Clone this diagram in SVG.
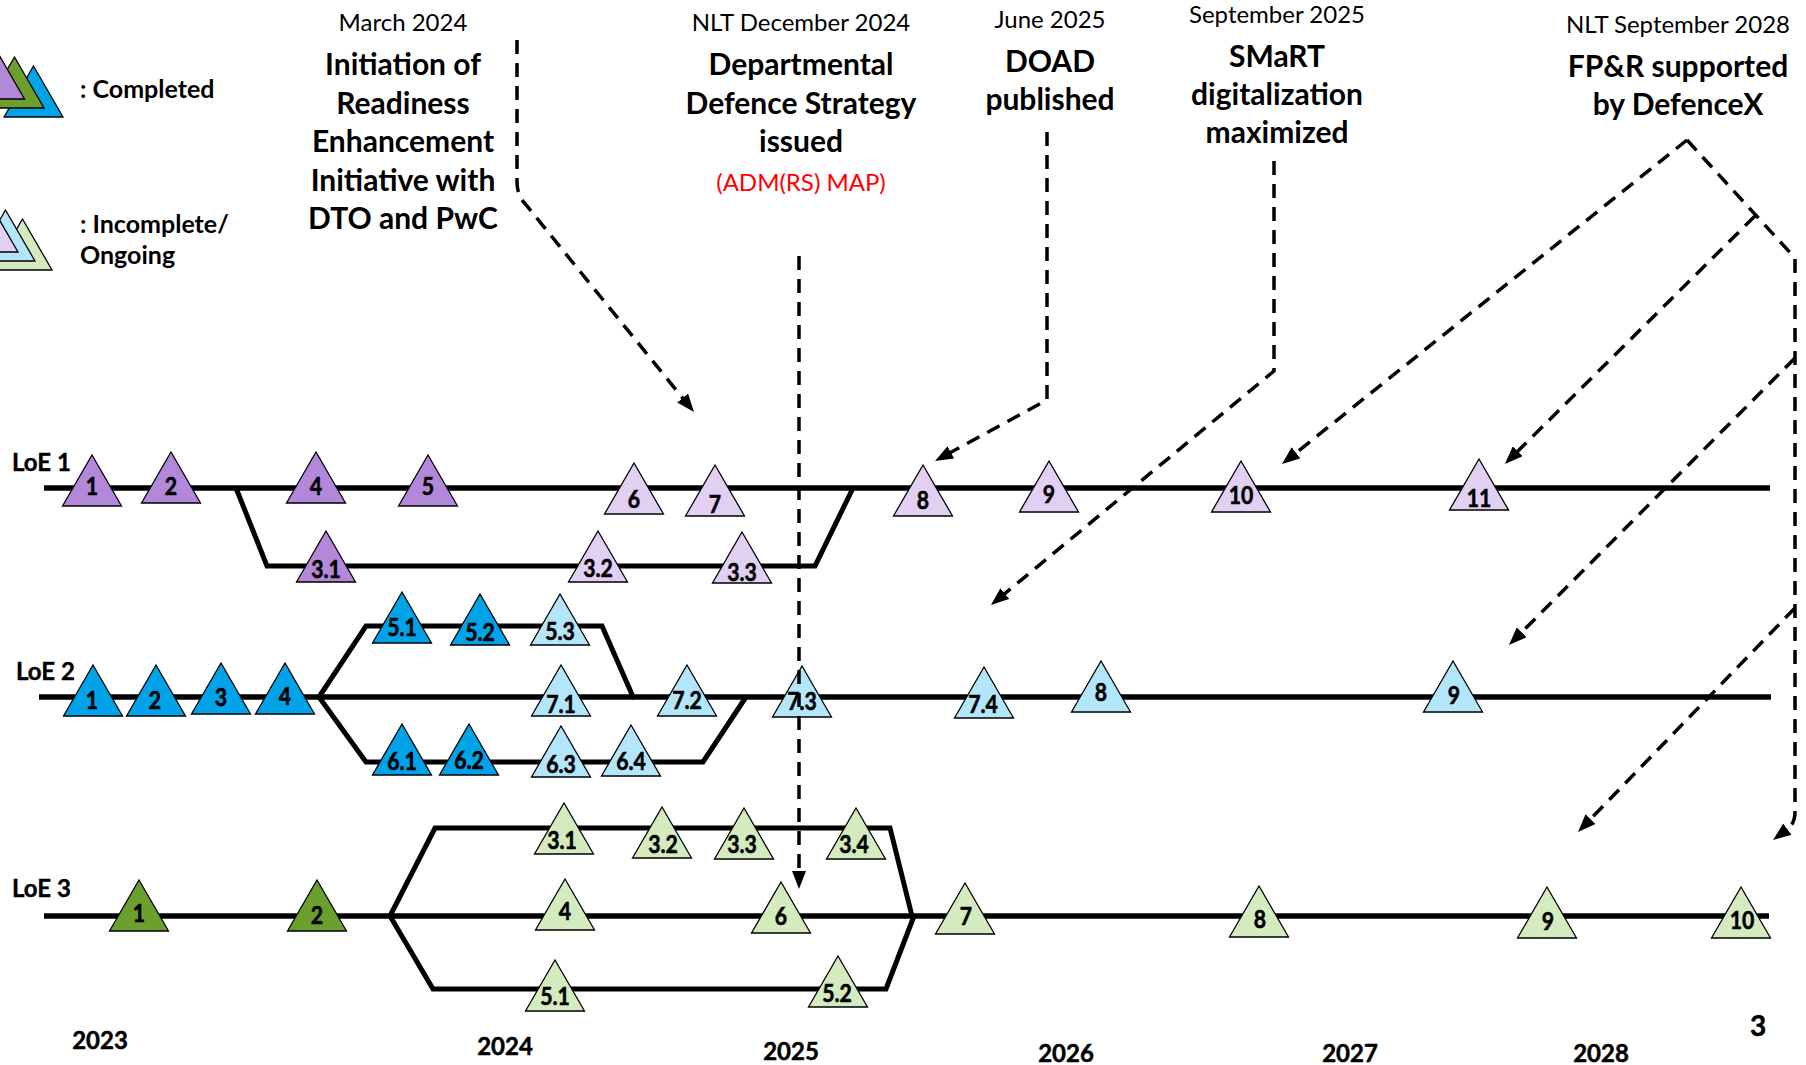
<svg xmlns="http://www.w3.org/2000/svg" xmlns:xlink="http://www.w3.org/1999/xlink" width="1806" height="1065" viewBox="0 0 1806 1065">
<style>
.tri{stroke:#000;stroke-width:1.3;stroke-linejoin:miter}
.pu{fill:#B388DA}.lpu{fill:#E2D0F2}
.bl{fill:#00A2E8}.lbl{fill:#B3E5FB}
.dg{fill:#6B9F2E}.lg{fill:#D3EBBF}
.num{font-family:Lato,"Open Sans","Liberation Sans",sans-serif;font-weight:700;font-size:25px;text-anchor:middle;fill:#000;stroke:#000;stroke-width:0.6}
.head{font-family:Lato,"Open Sans","Liberation Sans",sans-serif;font-weight:700;font-size:30px;text-anchor:middle;fill:#000}
.date{font-family:Lato,"Open Sans","Liberation Sans",sans-serif;font-weight:400;font-size:24px;text-anchor:middle;fill:#000}
.leg{font-family:Lato,"Open Sans","Liberation Sans",sans-serif;font-weight:700;font-size:25px;fill:#000}
.year{font-family:Lato,"Open Sans","Liberation Sans",sans-serif;font-weight:700;font-size:24px;text-anchor:middle;fill:#000;stroke:#000;stroke-width:0.5}
.loe{font-family:Lato,"Open Sans","Liberation Sans",sans-serif;font-weight:700;font-size:24px;fill:#000;stroke:#000;stroke-width:0.4}
.tl{fill:none;stroke:#000;stroke-width:5.5;stroke-linejoin:miter}
.br{fill:none;stroke:#000;stroke-width:5;stroke-linejoin:miter}
.dash{fill:none;stroke:#000;stroke-width:3.5;stroke-dasharray:14 9}
</style>
<defs>
<path id="tri" d="M0,0 L29.5,51 L-29.5,51 Z"/>
<marker id="arr" markerUnits="userSpaceOnUse" markerWidth="18" markerHeight="14" viewBox="0 0 18 14" refX="12" refY="7" orient="auto"><path d="M0,0 L18,7 L0,14 Z" fill="#000"/></marker>
</defs>
<rect width="1806" height="1065" fill="#fff"/>

<g id="legend">
<g id="legend-completed">
<use href="#tri" x="33.5" y="66" class="tri bl"/>
<use href="#tri" x="14.5" y="57" class="tri dg"/>
<use href="#tri" x="-5" y="48" class="tri pu"/>
<text class="leg" x="80" y="98">: Completed</text>
</g>
<g id="legend-incomplete">
<use href="#tri" x="22.5" y="219" class="tri lg"/>
<use href="#tri" x="5.5" y="210" class="tri lbl"/>
<use href="#tri" x="-11.5" y="201" class="tri lpu"/>
<text class="leg" x="80" y="233">: Incomplete/</text>
<text class="leg" x="80" y="264">Ongoing</text>
</g>
</g>

<g id="headings">
<g id="h-march2024">
<text class="date" x="403" y="31">March 2024</text>
<text class="head" x="403" y="75">Initiation of</text>
<text class="head" x="403" y="114">Readiness</text>
<text class="head" x="403" y="152">Enhancement</text>
<text class="head" x="403" y="191">Initiative with</text>
<text class="head" x="403" y="229">DTO and PwC</text>
</g>
<g id="h-dec2024">
<text class="date" x="801" y="31">NLT December 2024</text>
<text class="head" x="801" y="75">Departmental</text>
<text class="head" x="801" y="114">Defence Strategy</text>
<text class="head" x="801" y="152">issued</text>
<text class="date" x="801" y="191" style="fill:#FF0000">(ADM(RS) MAP)</text>
</g>
<g id="h-june2025">
<text class="date" x="1050" y="28">June 2025</text>
<text class="head" x="1050" y="72">DOAD</text>
<text class="head" x="1050" y="110">published</text>
</g>
<g id="h-sep2025">
<text class="date" x="1277" y="23">September 2025</text>
<text class="head" x="1277" y="67">SMaRT</text>
<text class="head" x="1277" y="105">digitalization</text>
<text class="head" x="1277" y="143">maximized</text>
</g>
<g id="h-sep2028">
<text class="date" x="1678" y="33">NLT September 2028</text>
<text class="head" x="1678" y="77">FP&amp;R supported</text>
<text class="head" x="1678" y="115">by DefenceX</text>
</g>
</g>

<g id="timelines">
<path class="tl" d="M44,488 H1770"/>
<path class="br" d="M236,488 L267,566 H815 L853,488"/>
<path class="tl" d="M39,697 H1771"/>
<path class="br" d="M319,697 L366,626 H602 L634,699"/>
<path class="br" d="M319,697 L366,762 H703 L746,697"/>
<path class="tl" d="M44,916 H1769"/>
<path class="br" d="M390,916 L435,828 H890 L912,916"/>
<path class="br" d="M390,916 L433,989 H886 L914,916"/>
</g>

<g id="loe-labels">
<text class="loe" x="12" y="471">LoE 1</text>
<text class="loe" x="16" y="680">LoE 2</text>
<text class="loe" x="12" y="897">LoE 3</text>
</g>

<g id="loe1">
<g id="l1-1"><use href="#tri" x="92" y="455" class="tri pu"/><text class="num" transform="translate(92,495) scale(0.85,1)">1</text></g>
<g id="l1-2"><use href="#tri" x="171" y="452" class="tri pu"/><text class="num" transform="translate(171,495) scale(0.85,1)">2</text></g>
<g id="l1-4"><use href="#tri" x="316" y="452" class="tri pu"/><text class="num" transform="translate(316,495) scale(0.85,1)">4</text></g>
<g id="l1-5"><use href="#tri" x="428" y="455" class="tri pu"/><text class="num" transform="translate(428,495) scale(0.85,1)">5</text></g>
<g id="l1-6"><use href="#tri" x="634" y="463" class="tri lpu"/><text class="num" transform="translate(634,508) scale(0.85,1)">6</text></g>
<g id="l1-7"><use href="#tri" x="715" y="465" class="tri lpu"/><text class="num" transform="translate(715,513) scale(0.85,1)">7</text></g>
<g id="l1-3-1"><use href="#tri" x="326" y="531" class="tri pu"/><text class="num" transform="translate(326,578) scale(0.85,1)">3.1</text></g>
<g id="l1-3-2"><use href="#tri" x="598" y="531" class="tri lpu"/><text class="num" transform="translate(598,577) scale(0.85,1)">3.2</text></g>
<g id="l1-3-3"><use href="#tri" x="742" y="532" class="tri lpu"/><text class="num" transform="translate(742,581) scale(0.85,1)">3.3</text></g>
<g id="l1-8"><use href="#tri" x="923" y="465" class="tri lpu"/><text class="num" transform="translate(923,509) scale(0.85,1)">8</text></g>
<g id="l1-9"><use href="#tri" x="1049" y="461" class="tri lpu"/><text class="num" transform="translate(1049,503) scale(0.85,1)">9</text></g>
<g id="l1-10"><use href="#tri" x="1241" y="461" class="tri lpu"/><text class="num" transform="translate(1241,504) scale(0.85,1)">10</text></g>
<g id="l1-11"><use href="#tri" x="1479" y="459" class="tri lpu"/><text class="num" transform="translate(1479,507) scale(0.85,1)">11</text></g>
</g>

<g id="loe2">
<g id="l2-1"><use href="#tri" x="93" y="665" class="tri bl"/><text class="num" transform="translate(92,709) scale(0.85,1)">1</text></g>
<g id="l2-2"><use href="#tri" x="156" y="665" class="tri bl"/><text class="num" transform="translate(155,709) scale(0.85,1)">2</text></g>
<g id="l2-3"><use href="#tri" x="221" y="663" class="tri bl"/><text class="num" transform="translate(221,706) scale(0.85,1)">3</text></g>
<g id="l2-4"><use href="#tri" x="285" y="663" class="tri bl"/><text class="num" transform="translate(285,705) scale(0.85,1)">4</text></g>
<g id="l2-5-1"><use href="#tri" x="402" y="592" class="tri bl"/><text class="num" transform="translate(402,636) scale(0.85,1)">5.1</text></g>
<g id="l2-5-2"><use href="#tri" x="480" y="594" class="tri bl"/><text class="num" transform="translate(480,641) scale(0.85,1)">5.2</text></g>
<g id="l2-5-3"><use href="#tri" x="560" y="594" class="tri lbl"/><text class="num" transform="translate(560,640) scale(0.85,1)">5.3</text></g>
<g id="l2-7-1"><use href="#tri" x="561" y="665" class="tri lbl"/><text class="num" transform="translate(561,713) scale(0.85,1)">7.1</text></g>
<g id="l2-7-2"><use href="#tri" x="687" y="665" class="tri lbl"/><text class="num" transform="translate(687,709) scale(0.85,1)">7.2</text></g>
<g id="l2-7-3"><use href="#tri" x="802" y="666" class="tri lbl"/><text class="num" transform="translate(802,710) scale(0.85,1)">7.3</text></g>
<g id="l2-6-1"><use href="#tri" x="402" y="724" class="tri bl"/><text class="num" transform="translate(402,770) scale(0.85,1)">6.1</text></g>
<g id="l2-6-2"><use href="#tri" x="469" y="724" class="tri bl"/><text class="num" transform="translate(469,769) scale(0.85,1)">6.2</text></g>
<g id="l2-6-3"><use href="#tri" x="561" y="726" class="tri lbl"/><text class="num" transform="translate(561,773) scale(0.85,1)">6.3</text></g>
<g id="l2-6-4"><use href="#tri" x="631" y="725" class="tri lbl"/><text class="num" transform="translate(631,770) scale(0.85,1)">6.4</text></g>
<g id="l2-7-4"><use href="#tri" x="984" y="667" class="tri lbl"/><text class="num" transform="translate(983,713) scale(0.85,1)">7.4</text></g>
<g id="l2-8"><use href="#tri" x="1101" y="661" class="tri lbl"/><text class="num" transform="translate(1101,701) scale(0.85,1)">8</text></g>
<g id="l2-9"><use href="#tri" x="1453" y="661" class="tri lbl"/><text class="num" transform="translate(1454,704) scale(0.85,1)">9</text></g>
</g>

<g id="loe3">
<g id="l3-1"><use href="#tri" x="139" y="880" class="tri dg"/><text class="num" transform="translate(139,922) scale(0.85,1)">1</text></g>
<g id="l3-2"><use href="#tri" x="317" y="880" class="tri dg"/><text class="num" transform="translate(317,924) scale(0.85,1)">2</text></g>
<g id="l3-3-1"><use href="#tri" x="564" y="803" class="tri lg"/><text class="num" transform="translate(562,849) scale(0.85,1)">3.1</text></g>
<g id="l3-3-2"><use href="#tri" x="662" y="807" class="tri lg"/><text class="num" transform="translate(663,853) scale(0.85,1)">3.2</text></g>
<g id="l3-3-3"><use href="#tri" x="744" y="808" class="tri lg"/><text class="num" transform="translate(742,853) scale(0.85,1)">3.3</text></g>
<g id="l3-3-4"><use href="#tri" x="856" y="808" class="tri lg"/><text class="num" transform="translate(854,853) scale(0.85,1)">3.4</text></g>
<g id="l3-4"><use href="#tri" x="565" y="879" class="tri lg"/><text class="num" transform="translate(565,920) scale(0.85,1)">4</text></g>
<g id="l3-6"><use href="#tri" x="781" y="882" class="tri lg"/><text class="num" transform="translate(781,925) scale(0.85,1)">6</text></g>
<g id="l3-5-1"><use href="#tri" x="555" y="960" class="tri lg"/><text class="num" transform="translate(555,1005) scale(0.85,1)">5.1</text></g>
<g id="l3-5-2"><use href="#tri" x="838" y="956" class="tri lg"/><text class="num" transform="translate(837,1002) scale(0.85,1)">5.2</text></g>
<g id="l3-7"><use href="#tri" x="965" y="883" class="tri lg"/><text class="num" transform="translate(966,925) scale(0.85,1)">7</text></g>
<g id="l3-8"><use href="#tri" x="1259" y="886" class="tri lg"/><text class="num" transform="translate(1260,928) scale(0.85,1)">8</text></g>
<g id="l3-9"><use href="#tri" x="1547" y="887" class="tri lg"/><text class="num" transform="translate(1548,930) scale(0.85,1)">9</text></g>
<g id="l3-10"><use href="#tri" x="1741" y="887" class="tri lg"/><text class="num" transform="translate(1742,929) scale(0.85,1)">10</text></g>
</g>

<g id="connectors">
<path class="dash" d="M517,40 V182 Q517,196 527,206 L690.2,407.3" marker-end="url(#arr)"/>
<path class="dash" d="M799,256 V883" marker-end="url(#arr)"/>
<path class="dash" d="M1047,132 V400 L940.3,458.1" marker-end="url(#arr)"/>
<path class="dash" d="M1274,161 V371 L995.6,601.2" marker-end="url(#arr)"/>
<path class="dash" d="M1687,140 L1286.7,460.3" marker-end="url(#arr)"/>
<path class="dash" d="M1687,140 L1795,258 V812 Q1795,822 1789,828 L1777.8,836.4" marker-end="url(#arr)"/>
<path class="dash" d="M1755,216 L1509.2,459.7" marker-end="url(#arr)"/>
<path class="dash" d="M1795,358 L1513.2,640.8" marker-end="url(#arr)"/>
<path class="dash" d="M1795,608 L1582.2,827.7" marker-end="url(#arr)"/>
</g>

<g id="years">
<text class="year" x="100" y="1049">2023</text>
<text class="year" x="505" y="1055">2024</text>
<text class="year" x="791" y="1060">2025</text>
<text class="year" x="1066" y="1062">2026</text>
<text class="year" x="1350" y="1062">2027</text>
<text class="year" x="1601" y="1062">2028</text>
<text class="year" x="1758" y="1036" style="font-size:28px">3</text>
</g>
</svg>
